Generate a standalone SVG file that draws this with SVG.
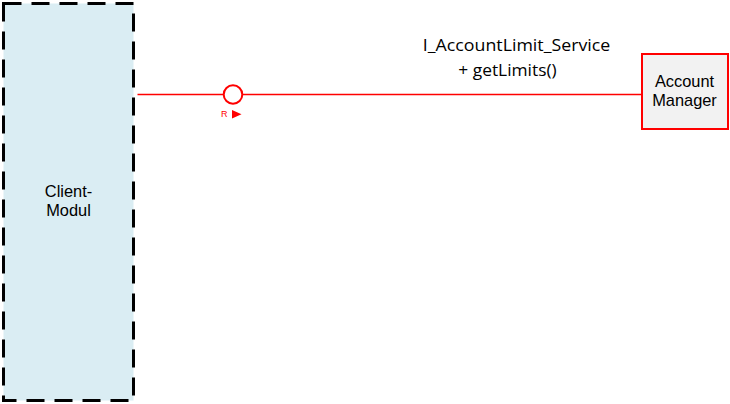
<svg xmlns="http://www.w3.org/2000/svg" width="730" height="404" viewBox="0 0 730 404">
<style>
.node-text{font-family:"Liberation Sans",Arial,sans-serif;font-size:16.4px;fill:#000;text-anchor:middle}
.lbl{font-family:"Open Sans","Noto Sans",sans-serif;font-size:17px;fill:#000}
.conn{stroke:#ff0000;stroke-width:1.3;fill:none}
</style>
<rect width="730" height="404" fill="#ffffff"/>
<g id="client-modul">
<rect x="3.5" y="3.5" width="130" height="397" fill="#daedf3" stroke="#000" stroke-width="3" stroke-dasharray="18 10"/>
<text class="node-text" x="68.5" y="197">Client-</text>
<text class="node-text" x="68.5" y="215.5">Modul</text>
</g>
<g id="account-manager">
<rect x="642" y="54" width="86" height="75" fill="#f2f2f2" stroke="#ff0000" stroke-width="2"/>
<text class="node-text" x="684.5" y="87.3">Account</text>
<text class="node-text" x="684.5" y="106">Manager</text>
</g>
<g id="connectors">
<line class="conn" x1="137.5" y1="94.5" x2="641" y2="94.5"/>
<circle cx="233" cy="94.5" r="9.3" fill="#ffffff" stroke="#ff0000" stroke-width="2"/>
<text x="221" y="116.5" font-family="Liberation Sans,Arial,sans-serif" font-size="9px" fill="#ff0000">R</text>
<polygon points="232,110 241.5,114.3 232,118.5" fill="#ff0000"/>
<text class="lbl" x="422.8" y="50.7" textLength="187.5" lengthAdjust="spacingAndGlyphs">I_AccountLimit_Service</text>
<text class="lbl" x="458.3" y="75.7" textLength="98.4" lengthAdjust="spacingAndGlyphs">+ getLimits()</text>
</g>
</svg>
